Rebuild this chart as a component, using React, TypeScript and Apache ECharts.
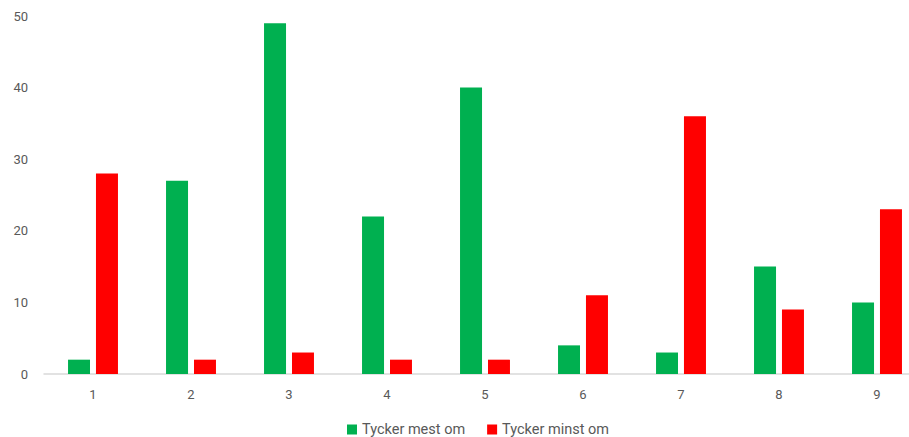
import React, { useEffect, useRef } from "react";
import * as echarts from "echarts";

const categories = ["1", "2", "3", "4", "5", "6", "7", "8", "9"];
const mestOm = [2, 27, 49, 22, 40, 4, 3, 15, 10];
const minstOm = [28, 2, 3, 2, 2, 11, 36, 9, 23];
const seriesNames = ["Tycker mest om", "Tycker minst om"];

export default function App() {
  const ref = useRef<HTMLDivElement>(null);
  useEffect(() => {
    if (!ref.current) return;
    const chart = echarts.init(ref.current, null, { renderer: "svg" });
    const textStyle = { color: "#595959", fontFamily: "Roboto", fontSize: 13 };
    chart.setOption({
      animation: false,
      grid: { left: 44, right: 0, top: 16, bottom: 63, containLabel: false },
      legend: {
        top: 422,
        left: 347,
        padding: 0,
        itemWidth: 10,
        itemHeight: 10,
        itemGap: 22,
        icon: "rect",
        textStyle: { ...textStyle, fontSize: 14.5 },
        data: seriesNames,
      },
      xAxis: {
        type: "category",
        data: categories,
        axisLine: { lineStyle: { color: "#D9D9D9", width: 1.5 } },
        axisTick: { show: false },
        axisLabel: { ...textStyle, margin: 14 },
      },
      yAxis: {
        type: "value",
        min: 0,
        max: 50,
        interval: 10,
        splitLine: { show: false },
        axisLine: { show: false },
        axisTick: { show: false },
        axisLabel: { ...textStyle, margin: 16 },
      },
      series: [
        {
          name: seriesNames[0],
          type: "bar",
          data: mestOm,
          barWidth: 22,
          barGap: "27%",
          itemStyle: { color: "#00B050" },
        },
        {
          name: seriesNames[1],
          type: "bar",
          data: minstOm,
          barWidth: 22,
          itemStyle: { color: "#FF0000" },
        },
      ],
    });
    return () => chart.dispose();
  }, []);
  return (
    <div
      style={{ position: "fixed", left: 0, top: 0, width: 909, height: 437, overflow: "hidden", background: "#fff" }}
    >
      <div ref={ref} style={{ width: 926, height: 437 }} />
    </div>
  );
}
